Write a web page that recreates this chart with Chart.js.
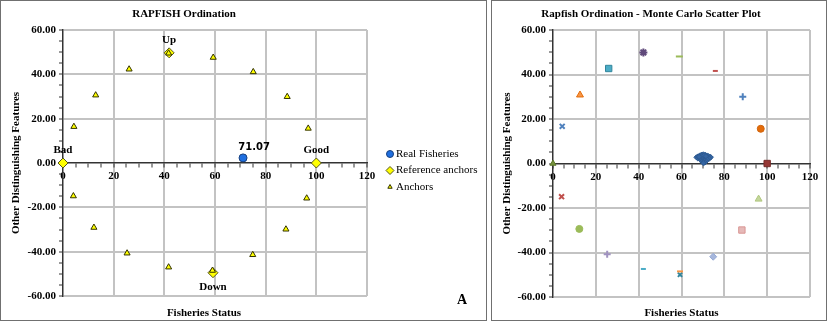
<!DOCTYPE html>
<html>
<head>
<meta charset="utf-8">
<script src="https://cdn.jsdelivr.net/npm/chart.js@4.4.1/dist/chart.umd.min.js"></script>
<style>
    body { margin: 0; background: #fff; }
    .panel { position: absolute; top: 0; border: 1px solid #707070; background: #fff; }
    #left-panel { left: 0; width: 485px; height: 319px; }
    #right-panel { left: 491px; width: 334px; height: 319px; }
    canvas { display: block; }
</style>
</head>
<body>
<div class="panel" id="left-panel"><canvas id="ordination-chart" width="485" height="319"></canvas></div>
<div class="panel" id="right-panel"><canvas id="montecarlo-chart" width="334" height="319"></canvas></div>

<script>
    // ---- data ----
    const xMajorTicks = [0, 20, 40, 60, 80, 100, 120];
    const yMajorTicks = [-60, -40, -20, 0, 20, 40, 60];

    // left chart: RAPFISH ordination
    const realX = [71.07];
    const realY = [2.3];
    const refLabels = ['Bad', 'Good', 'Up', 'Down'];
    const refX = [0, 100, 41.9, 59.2];
    const refY = [0, 0, 49.7, -49.5];
    const anchorX = [4.3, 12.9, 26.1, 41.7, 59.3, 75.1, 88.5, 96.8, 4.1, 12.2, 25.3, 41.7, 59.0, 74.9, 88.0, 96.2];
    const anchorY = [16.4, 30.6, 42.3, 49.5, 47.6, 41.1, 29.9, 15.6, -14.9, -29.1, -40.7, -47.0, -48.5, -41.4, -29.9, -15.9];

    // right chart: Monte Carlo scatter
    const mcAnchorX = [0, 4.3, 12.6, 26.0, 42.2, 59.0, 75.8, 88.6, 97.0, 100, 4.0, 12.3, 25.3, 42.2, 59.3, 59.3, 74.8, 88.2, 96.0];
    const mcAnchorY = [0, 16.7, 30.8, 42.7, 49.9, 48.1, 41.6, 30.0, 15.6, 0, -14.9, -29.4, -40.8, -47.4, -48.5, -50.0, -41.9, -29.9, -16.0];
    const mcCloudX = [67.0, 67.8, 68.6, 69.4, 70.2, 71.0, 71.8, 72.6, 73.3, 73.7,
                      67.6, 68.4, 69.2, 70.0, 70.8, 71.6, 72.4, 73.0,
                      68.8, 69.6, 70.4, 71.2, 72.0,
                      69.2, 70.0, 70.8, 71.5,
                      69.6, 70.3, 70.9, 70.2, 69.8, 70.6, 71.4, 68.2];
    const mcCloudY = [2.8, 3.2, 3.6, 4.0, 4.1, 3.9, 3.6, 3.3, 3.0, 2.8,
                      2.3, 2.6, 2.9, 3.2, 3.0, 2.7, 2.5, 2.2,
                      2.0, 2.2, 2.3, 2.0, 1.8,
                      1.4, 1.5, 1.2, 1.0,
                      0.8, 0.6, 0.4, 0.2, 3.6, 3.6, 3.3, 3.0];

    // marker styles for each Monte Carlo anchor series (Excel default marker cycle)
    const mcStyles = [
        {style: 'triangle', r: 3.5, bg: '#77933c', bd: '#5f7a2c'},
        {style: 'crossRot', r: 3.5, bg: '#4f81bd', bd: '#4f81bd'},
        {style: 'triangle', r: 4, bg: '#f79646', bd: '#e46c0a'},
        {style: 'rect', r: 4.5, bg: '#4bacc6', bd: '#31859c'},
        {style: 'star', r: 4, bg: '#8064a2', bd: '#604a7b'},
        {style: 'line', r: 3.5, bg: '#9bbb59', bd: '#9bbb59'},
        {style: 'line', r: 2.5, bg: '#c0504d', bd: '#c0504d'},
        {style: 'cross', r: 3.5, bg: '#4f81bd', bd: '#4f81bd'},
        {style: 'circle', r: 3.5, bg: '#e46c0a', bd: '#d0650e'},
        {style: 'rect', r: 4.5, bg: '#953735', bd: '#772c2a'},
        {style: 'crossRot', r: 3.5, bg: '#c0504d', bd: '#c0504d'},
        {style: 'circle', r: 3.5, bg: '#9bbb59', bd: '#9bbb59'},
        {style: 'cross', r: 3.5, bg: '#a092c0', bd: '#a092c0'},
        {style: 'line', r: 2.5, bg: '#4bacc6', bd: '#4bacc6'},
        {style: 'line', r: 3, bg: '#f79646', bd: '#f79646'},
        {style: 'crossRot', r: 3, bg: '#31859c', bd: '#31859c'},
        {style: 'rectRot', r: 3.5, bg: '#a6b7dc', bd: '#95a8d4'},
        {style: 'rect', r: 4.5, bg: '#e6b9b8', bd: '#d99694'},
        {style: 'triangle', r: 4, bg: '#c3d69b', bd: '#b0c77f'}
    ];

    const serif = "'Liberation Serif', 'Times New Roman', serif";
    const gridColor = '#c3c3c3';
    const axisColor = '#333';

    Chart.defaults.font.family = serif;
    Chart.defaults.font.size = 11;
    Chart.defaults.color = '#000';

    function toPoints(xs, ys) {
        return xs.map((x, i) => ({x: x, y: ys[i]}));
    }

    function build_scales(y_axis_width) {
        return {
            x: {
                type: 'linear', min: 0, max: 120, position: {y: 0},
                ticks: {
                    stepSize: 5, autoSkip: false, maxRotation: 0, padding: 3,
                    font: {weight: 'bold'},
                    callback: v => xMajorTicks.includes(v) ? String(v) : ''
                },
                grid: {
                    color: c => (c.tick && c.tick.value !== 0 && xMajorTicks.includes(c.tick.value)) ? gridColor : 'rgba(0,0,0,0)',
                    lineWidth: 2, tickColor: axisColor, tickLength: 4, tickWidth: 1
                },
                border: {color: axisColor, width: 1.5}
            },
            y: {
                type: 'linear', min: -60, max: 60, position: 'left',
                afterFit: scale => { scale.width = y_axis_width; },
                ticks: {
                    stepSize: 5, autoSkip: false, padding: 3,
                    font: {weight: 'bold'},
                    callback: v => yMajorTicks.includes(v) ? v.toFixed(2) : ''
                },
                grid: {
                    color: c => (c.tick && c.tick.value !== 0 && yMajorTicks.includes(c.tick.value)) ? gridColor : 'rgba(0,0,0,0)',
                    lineWidth: 2, tickColor: axisColor, tickLength: 4, tickWidth: 1
                },
                border: {color: axisColor, width: 1.5},
                title: {
                    display: true, text: 'Other Distinguishing Features',
                    font: {weight: 'bold', size: 11}, padding: {top: 9, bottom: 0}
                }
            }
        };
    }

    function draw_marker(ctx, style, r, bg, bd, x, y) {
        ctx.fillStyle = bg;
        ctx.strokeStyle = bd;
        ctx.lineWidth = 1;
        Chart.helpers.drawPoint(ctx, {pointStyle: style, radius: r, borderWidth: 1, rotation: 0}, x, y);
    }

    // labels, axis title, legend and panel letter for the left chart
    const ordination_labels = {
        id: 'ordinationLabels',
        afterDatasetsDraw(chart) {
            const {ctx, chartArea, scales: {x, y}} = chart;
            ctx.save();
            ctx.fillStyle = '#000';
            ctx.textAlign = 'center';
            ctx.textBaseline = 'middle';
            ctx.font = 'bold 11px ' + serif;
            refLabels.forEach((t, i) => {
                const dy = refY[i] < 0 ? 14 : -13;
                ctx.fillText(t, x.getPixelForValue(refX[i]), y.getPixelForValue(refY[i]) + dy);
            });
            ctx.fillText('Fisheries Status', (chartArea.left + chartArea.right) / 2 - 11, chartArea.bottom + 17);

            ctx.font = "bold 10px 'DejaVu Sans', Verdana, sans-serif";
            ctx.fillText(realX[0].toFixed(2), x.getPixelForValue(realX[0]) + 11, y.getPixelForValue(realY[0]) - 10);

            ctx.font = 'bold 14px ' + serif;
            ctx.fillText('A', chart.width - 24, chartArea.bottom + 4);

            // legend
            const items = [
                {text: 'Real Fisheries', style: 'circle', r: 3.5, bg: '#1f6fe0', bd: '#17407f'},
                {text: 'Reference anchors', style: 'rectRot', r: 4, bg: '#ffff00', bd: '#55551c'},
                {text: 'Anchors', style: 'triangle', r: 2.5, bg: '#ffff00', bd: '#333300'}
            ];
            const lx = chartArea.right + 23;
            items.forEach((it, i) => {
                const ly = 153 + i * 16.5;
                draw_marker(ctx, it.style, it.r, it.bg, it.bd, lx, ly);
                ctx.fillStyle = '#000';
                ctx.font = '11px ' + serif;
                ctx.textAlign = 'left';
                ctx.fillText(it.text, lx + 6, ly);
            });
            ctx.restore();
        }
    };

    const montecarlo_labels = {
        id: 'montecarloLabels',
        afterDatasetsDraw(chart) {
            const {ctx, chartArea} = chart;
            ctx.save();
            ctx.fillStyle = '#000';
            ctx.textAlign = 'center';
            ctx.textBaseline = 'middle';
            ctx.font = 'bold 11px ' + serif;
            ctx.fillText('Fisheries Status', (chartArea.left + chartArea.right) / 2, chartArea.bottom + 16);
            ctx.restore();
        }
    };

    // ---- left chart ----
    new Chart(document.getElementById('ordination-chart'), {
        type: 'scatter',
        data: {
            datasets: [{
                label: 'Anchors',
                data: toPoints(anchorX, anchorY),
                pointStyle: 'triangle', pointRadius: 3.5,
                backgroundColor: '#ffff00', borderColor: '#333300', borderWidth: 1,
                clip: false
            }, {
                label: 'Reference anchors',
                data: toPoints(refX, refY),
                pointStyle: 'rectRot', pointRadius: 5,
                backgroundColor: '#ffff00', borderColor: '#55551c', borderWidth: 1,
                clip: false
            }, {
                label: 'Real Fisheries',
                data: toPoints(realX, realY),
                pointStyle: 'circle', pointRadius: 4,
                backgroundColor: '#1f6fe0', borderColor: '#17407f', borderWidth: 1,
                clip: false
            }]
        },
        options: {
            responsive: false,
            animation: false,
            devicePixelRatio: 1,
            layout: {padding: {left: 0, right: 119, top: 0, bottom: 24}},
            plugins: {
                legend: {display: false},
                tooltip: {enabled: false},
                title: {
                    display: true, text: 'RAPFISH Ordination',
                    font: {weight: 'bold', size: 11}, color: '#000',
                    padding: {top: 6.4, bottom: 9.4}
                }
            },
            scales: build_scales(62)
        },
        plugins: [ordination_labels]
    });

    // ---- right chart ----
    const mc_datasets = mcAnchorX.map((x, i) => {
        const s = mcStyles[i];
        const thick = ['line', 'cross', 'crossRot', 'star'].includes(s.style);
        return {
            label: 'Anchor ' + (i + 1),
            data: [{x: x, y: mcAnchorY[i]}],
            pointStyle: s.style, pointRadius: s.r,
            backgroundColor: s.bg, borderColor: s.bd,
            borderWidth: thick ? 2 : 1,
            clip: false
        };
    });
    mc_datasets.push({
        label: 'Monte Carlo',
        data: toPoints(mcCloudX, mcCloudY),
        pointStyle: 'rectRot', pointRadius: 2.6,
        backgroundColor: '#3565a3', borderColor: '#2d5a92', borderWidth: 1,
        clip: false
    });

    new Chart(document.getElementById('montecarlo-chart'), {
        type: 'scatter',
        data: {datasets: mc_datasets},
        options: {
            responsive: false,
            animation: false,
            devicePixelRatio: 1,
            layout: {padding: {left: 0, right: 16, top: 0, bottom: 23}},
            plugins: {
                legend: {display: false},
                tooltip: {enabled: false},
                title: {
                    display: true, text: 'Rapfish Ordination - Monte Carlo Scatter Plot',
                    font: {weight: 'bold', size: 11}, color: '#000',
                    padding: {top: 6.4, bottom: 9.4}
                }
            },
            scales: build_scales(61)
        },
        plugins: [montecarlo_labels]
    });
</script>
</body>
</html>
